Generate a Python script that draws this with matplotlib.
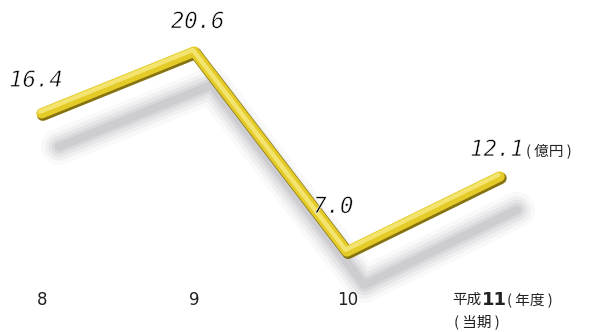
import matplotlib
matplotlib.use("Agg")
import matplotlib.pyplot as plt
import matplotlib.patheffects as pe
from matplotlib.transforms import offset_copy

years = ["8", "9", "10", "11"]
values = [16.4, 20.6, 7.0, 12.1]
value_labels = ["16.4", "20.6", "7.0", "12.1"]
unit = "( 億円 )"

plt.rcParams['font.family'] = ['Noto Sans CJK JP', 'DejaVu Sans']

fig = plt.figure(figsize=(6.0, 3.32), dpi=100)
ax = fig.add_axes([0, 0, 1, 1])
ax.set_xlim(-0.275, 3.655)
ax.set_ylim(1.55, 24.14)
ax.axis('off')

x = list(range(len(values)))

# blurred drop shadow, shifted down and right
shadow_tr = offset_copy(ax.transData, fig=fig, x=17, y=-33, units='dots')
for lw, a in [(26, 0.05), (20, 0.08), (15, 0.10), (10, 0.13), (6, 0.16)]:
    ax.plot(x, values, color='#8a8a98', lw=lw, alpha=a, transform=shadow_tr,
            solid_joinstyle='round', solid_capstyle='round')

# the yellow tube: dark rim below, light highlight on top
rnd = dict(joinstyle='round', capstyle='round')
ax.plot(x, values, color='#ead43a', lw=7.5,
        path_effects=[pe.Stroke(linewidth=8.5, foreground='#857210',
                                offset=(0.6, -0.9), **rnd),
                      pe.Stroke(linewidth=7.5, foreground='#e4cb28',
                                offset=(-0.3, 0.3), **rnd),
                      pe.Stroke(linewidth=3.2, foreground='#f3e470',
                                offset=(-1.3, 1.5), **rnd)])

# value labels, thin italic digits
offsets = [(-6, 33), (3, 30), (-14, 45), (-3, 27)]
thin = [pe.Stroke(linewidth=0.45, foreground='white')]
last = None
for xi, v, lab, off in zip(x, values, value_labels, offsets):
    last = ax.annotate(lab, (xi, v), xytext=off, textcoords='offset pixels',
                       family=['DejaVu Sans Mono'], style='italic',
                       fontsize=16, color='#000000', ha='center',
                       va='center', path_effects=thin)
ax.annotate(unit, xy=(1, 0.45), xycoords=last, xytext=(2, 0),
            textcoords='offset pixels', ha='left', va='center',
            fontsize=10.5, color='#222222')

# year labels along the bottom
tr = ax.get_xaxis_transform()
for xi, yr in zip(x[:-1], years[:-1]):
    ax.text(xi, 0.096, yr, transform=tr, ha='center', va='center',
            fontsize=12, color='#222222', family=['DejaVu Sans'])

t1 = ax.text(x[-1] - 0.31, 0.096, "平成", transform=tr, ha='left',
             va='center', fontsize=10.5, color='#222222')
t2 = ax.annotate(years[-1], xy=(1, 0.5), xycoords=t1, ha='left',
                 va='center', fontsize=13, fontweight='bold',
                 color='#222222', family=['DejaVu Sans'])
ax.annotate("( 年度 )", xy=(1, 0.5), xycoords=t2, ha='left', va='center',
            fontsize=10.5, color='#222222')
ax.text(x[-1] - 0.3, 0.030, "( 当期 )", transform=tr, ha='left',
        va='center', fontsize=10.5, color='#222222')

fig.savefig("out.png", dpi=100, facecolor='white')
